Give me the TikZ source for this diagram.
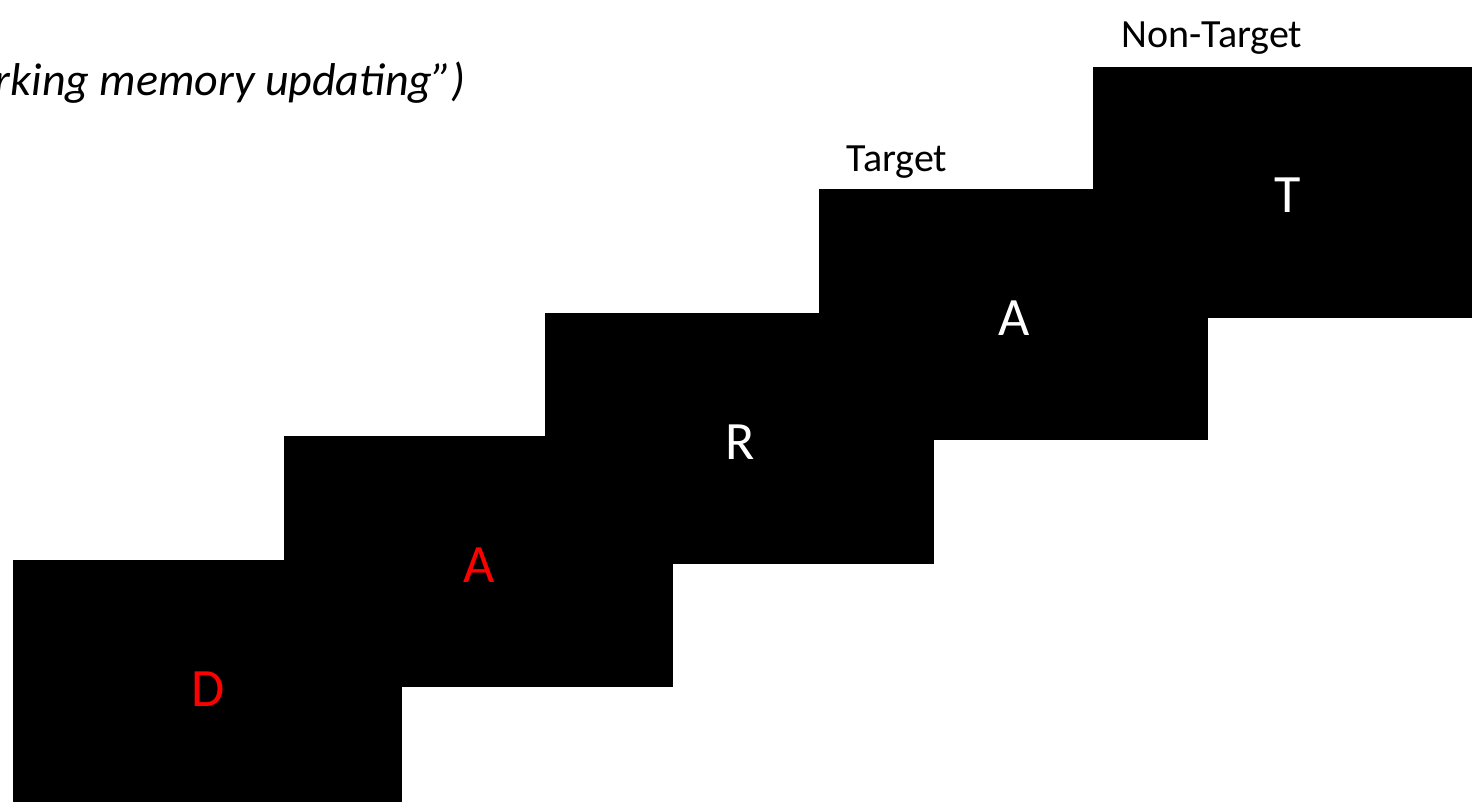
\documentclass[tikz,border=0pt]{standalone}
\usepackage{fontspec}
\setmainfont{Carlito}
\begin{document}
\begin{tikzpicture}[x=1pt,y=-1pt,
  screen/.style={rectangle, fill=black, draw=none, inner sep=0pt,
    minimum width=389pt, minimum height=251pt, anchor=north west},
  stim/.style={font=\fontsize{54}{54}\selectfont, inner sep=0pt},
  lab/.style={font=\fontsize{40}{40}\selectfont, inner sep=0pt, anchor=base}]
\useasboundingbox (0,0) rectangle (1472,802);
\fill[white] (0,0) rectangle (1472,802);
\clip (0,0) rectangle (1472,802);
\node[screen] (s1) at (13,560) {};
\node[screen] (s2) at (284,436) {};
\node[screen] (s3) at (545,313) {};
\node[screen] (s4) at (819,189) {};
\node[screen] (s5) at (1093,67) {};
\node[stim, text=red] (l1) at ([yshift=-3pt]s1.center) {D};
\node[stim, text=red] (l2) at ([yshift=-3pt]s2.center) {A};
\node[stim, text=white] (l3) at ([yshift=-3pt]s3.center) {R};
\node[stim, text=white] (l4) at ([yshift=-3pt]s4.center) {A};
\node[stim, text=white] (l5) at ([yshift=-2pt]s5.center) {T};
\node[lab] (t4) at (897,172) {Target};
\node[lab] (t5) at (1212,48) {Non-Target};
\node[font=\fontsize{46}{46}\selectfont\itshape, inner sep=0pt, anchor=base east] (title) at (466,96) {rking memory updating”)};
\end{tikzpicture}
\end{document}
